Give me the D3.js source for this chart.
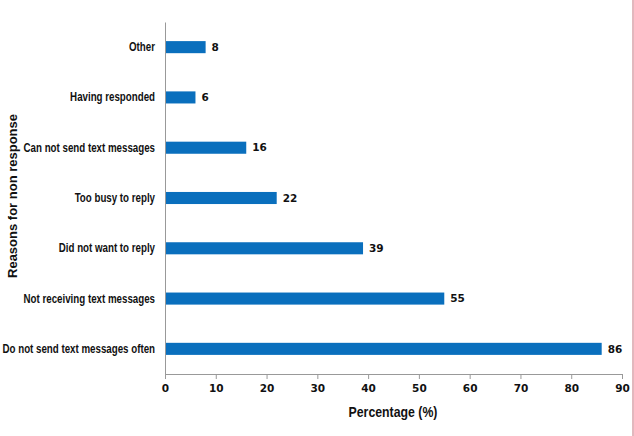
<!DOCTYPE html>
<html>
<head>
<meta charset="utf-8">
<script src="https://cdn.jsdelivr.net/npm/d3@7"></script>
<style>
  body { margin: 0; background: #fff; }
  svg { display: block; }
</style>
</head>
<body>
<svg id="chart" width="634" height="436"></svg>
<script>
var reasons = ["Other", "Having responded", "Can not send text messages", "Too busy to reply",
  "Did not want to reply", "Not receiving text messages", "Do not send text messages often"];
var percents = [8, 6, 16, 22, 39, 55, 86];
var xTicks = [0, 10, 20, 30, 40, 50, 60, 70, 80, 90];

var data = reasons.map((r, i) => ({ reason: r, value: percents[i] }));

var svg = d3.select("#chart");
var margin = { top: 22, right: 12, bottom: 62, left: 165 };
var g = svg.append("g").attr("transform", `translate(${margin.left}, ${margin.top})`);

var x = d3.scaleLinear().domain([0, 90]).range([0, 457]);
var y = d3.scaleBand().domain(reasons).range([0, 352]).paddingInner(0.76).paddingOuter(0.38);

var sans = "'Liberation Sans', Arial, sans-serif";

// bars
g.selectAll("rect.bar")
  .data(data)
  .enter().append("rect")
  .attr("class", "bar")
  .attr("x", x(0))
  .attr("y", d => y(d.reason))
  .attr("width", d => x(d.value) - x(0))
  .attr("height", y.bandwidth())
  .attr("fill", "#0a6fbd");

// value labels
g.selectAll("text.val")
  .data(data)
  .enter().append("text")
  .attr("class", "val")
  .attr("x", d => x(d.value) + 6)
  .attr("y", d => y(d.reason) + y.bandwidth() / 2)
  .attr("dy", "0.36em")
  .attr("font-family", "'DejaVu Sans', Verdana, sans-serif")
  .attr("font-weight", "bold")
  .attr("font-size", 10.5)
  .attr("fill", "#111")
  .text(d => d.value);

// x axis
var xAxis = g.append("g")
  .attr("transform", `translate(0, 352)`)
  .call(d3.axisBottom(x).tickValues(xTicks).tickSize(5).tickPadding(6).tickSizeOuter(0));
xAxis.select(".domain").attr("stroke", "#999");
xAxis.selectAll(".tick line").attr("stroke", "#999");
xAxis.selectAll(".tick text")
  .attr("font-family", "'DejaVu Sans', Verdana, sans-serif")
  .attr("font-weight", "bold")
  .attr("font-size", 10.5)
  .attr("fill", "#111");

// y axis (labels squeezed to look like a narrow face)
var yAxis = g.append("g")
  .call(d3.axisLeft(y).tickSize(0).tickSizeOuter(0));
yAxis.select(".domain").attr("stroke", "#999");
yAxis.selectAll(".tick text")
  .attr("x", 0)
  .attr("transform", "translate(-10,0) scale(0.78,1)")
  .attr("font-family", sans)
  .attr("font-weight", "bold")
  .attr("font-size", 12.5)
  .attr("fill", "#111");

// axis titles
svg.append("text")
  .attr("transform", `translate(${margin.left + 228}, 417) scale(0.88,1)`)
  .attr("text-anchor", "middle")
  .attr("font-family", sans)
  .attr("font-weight", "bold")
  .attr("font-size", 14)
  .attr("fill", "#111")
  .text("Percentage (%)");

svg.append("text")
  .attr("transform", "translate(17, 196) rotate(-90)")
  .attr("text-anchor", "middle")
  .attr("font-family", sans)
  .attr("font-weight", "bold")
  .attr("font-size", 13)
  .attr("fill", "#111")
  .text("Reasons for non response");

// right edge border
svg.append("line")
  .attr("x1", 633).attr("x2", 633)
  .attr("y1", 0).attr("y2", 436)
  .attr("stroke", "#d8a0a8")
  .attr("stroke-width", 1.5);
</script>
</body>
</html>
